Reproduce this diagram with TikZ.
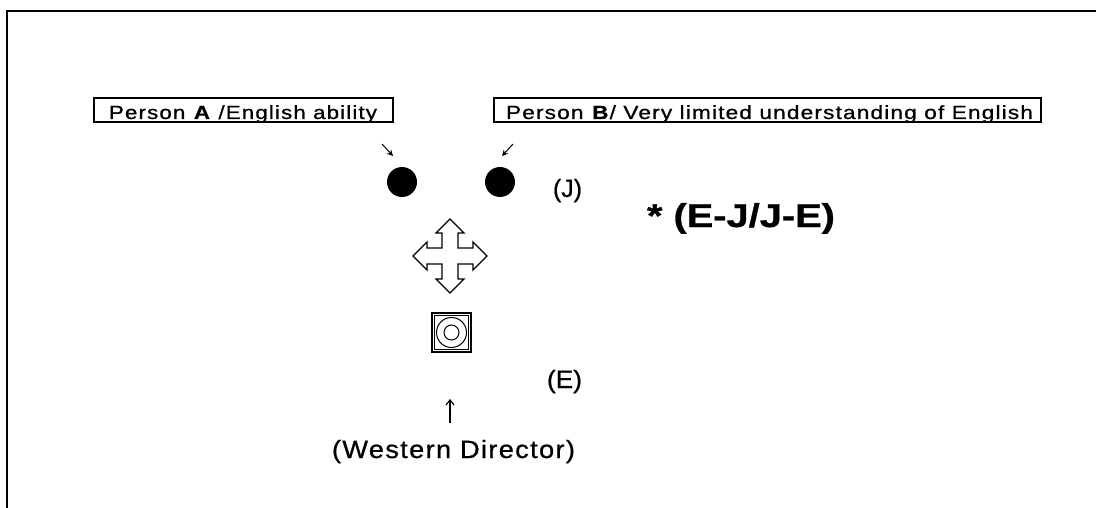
\documentclass[tikz,border=0pt]{standalone}
\usepackage{fontspec}
\setmainfont{Liberation Sans}[FakeBold=0.8]
\newfontfamily\spacedfont{Liberation Sans}[LetterSpace=5,FakeBold=0.8]
\usetikzlibrary{arrows.meta}
\newcommand{\fitto}[2]{\resizebox{#1}{\height}{#2}}

\begin{document}
\begin{tikzpicture}[x=1pt,y=-1pt,
  labelbox/.style={draw, line width=1.5pt, inner sep=0pt},
  boxtext/.style={anchor=base, inner sep=0pt, font=\fontsize{19}{22}\selectfont},
  midtext/.style={anchor=base, inner sep=0pt, font=\fontsize{25}{29}\selectfont},
  bigtext/.style={anchor=base, inner sep=0pt, font=\fontsize{33}{38}\selectfont\bfseries},
  dot/.style={circle, fill=black, minimum size=30pt, inner sep=0pt},
  smallarrow/.style={line width=1pt, -{Stealth[length=6pt,width=6pt]}},
  uparrow/.style={line width=1.2pt, -{Straight Barb[length=5pt,width=8pt]}},
  crossline/.style={line width=1.1pt, line join=miter},
  thinline/.style={line width=1pt}]
\useasboundingbox (0,0) rectangle (1096,508);

% frame
\draw[line width=2pt] (7,508) -- (7,11) -- (1096,11);

% labelled boxes
\node[labelbox, minimum width=299pt, minimum height=24pt] (boxA) at (243.5,110) {};
\node[boxtext] (txtA) at (243,119) {\fitto{268pt}{\spacedfont Person \textbf{A} /English ability}};
\node[labelbox, minimum width=547pt, minimum height=24pt] (boxB) at (767.5,110) {};
\node[boxtext] (txtB) at (769.5,119) {\fitto{527pt}{\spacedfont Person \textbf{B}/ Very limited understanding of English}};

% persons
\node[dot] (dotA) at (402,182) {};
\node[dot] (dotB) at (500,182) {};
\coordinate (arAs) at (382,144);
\coordinate (arAe) at (393,156);
\coordinate (arBs) at (513,144);
\coordinate (arBe) at (502,156);
\draw[smallarrow] (arAs) -- (arAe);
\draw[smallarrow] (arBs) -- (arBe);

\node[midtext] (J) at (567.5,197) {\fitto{29pt}{(J)}};
\node[bigtext] (EJ) at (741,227) {\fitto{188pt}{* (E-J/J-E)}};

% four-way arrow
\coordinate (cross) at (450,256);
\begin{scope}[shift={(cross)}]
\draw[crossline] (-8,-8) -- (-8,-23) -- (-14,-23) -- (0,-37) -- (14,-23) -- (8,-23) -- (8,-8)
  -- (23,-8) -- (23,-14) -- (37,0) -- (23,14) -- (23,8) -- (8,8)
  -- (8,23) -- (14,23) -- (0,37) -- (-14,23) -- (-8,23) -- (-8,8)
  -- (-23,8) -- (-23,14) -- (-37,0) -- (-23,-14) -- (-23,-8) -- cycle;
\end{scope}

% director symbol
\node[draw, line width=1.4pt, minimum size=39pt, inner sep=0pt] (sq) at (451.5,332.5) {};
\node[draw, line width=0.7pt, minimum size=34pt, inner sep=0pt] (sqin) at (sq.center) {};
\draw[thinline] (sq.center) circle[radius=15];
\draw[thinline] (sq.center) circle[radius=7.5];

\node[midtext] (E) at (564.5,388) {\fitto{35pt}{(E)}};

\coordinate (upS) at (450,423);
\coordinate (upE) at (450,399);
\draw[uparrow] (upS) -- (upE);
\node[midtext] (WD) at (453.5,458) {\fitto{243pt}{\spacedfont (Western Director)}};
\end{tikzpicture}
\end{document}
